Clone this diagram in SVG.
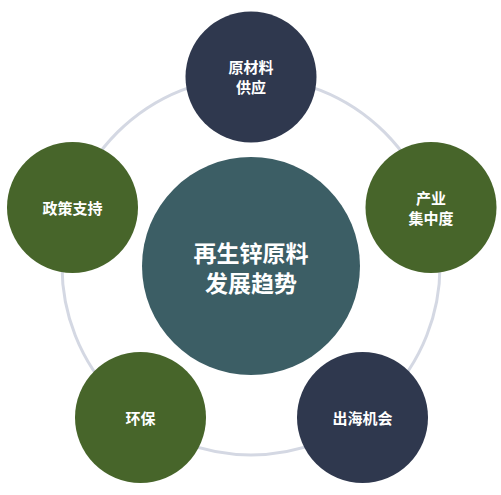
<svg xmlns="http://www.w3.org/2000/svg" width="501" height="495" viewBox="0 0 501 495">
<style>
.t{font-family:"Noto Sans CJK SC","Liberation Sans",sans-serif;font-weight:bold;fill:#ffffff;text-anchor:middle;dominant-baseline:central}
.s{font-size:15px}
.b{font-size:23px}
.navy{fill:#2f384e}
.green{fill:#47652a}
</style>
<rect width="501" height="495" fill="#ffffff"/>
<g id="connectors">
<circle cx="251" cy="266" r="189" fill="none" stroke="#d4d8e3" stroke-width="3"/>
</g>
<g id="center">
<circle cx="251" cy="266" r="109" fill="#3c5e65"/>
<text class="t b" x="251" y="252">再生锌原料<tspan x="251" dy="30">发展趋势</tspan></text>
</g>
<g id="node-raw">
<circle class="navy" cx="251" cy="77" r="65.5"/>
<text class="t s" x="251" y="66">原材料<tspan x="251" dy="20">供应</tspan></text>
</g>
<g id="node-industry">
<circle class="green" cx="431" cy="207.5" r="65.5"/>
<text class="t s" x="431" y="197">产业<tspan x="431" dy="20">集中度</tspan></text>
</g>
<g id="node-overseas">
<circle class="navy" cx="362.5" cy="417.5" r="65.5"/>
<text class="t s" x="362.5" y="417.5">出海机会</text>
</g>
<g id="node-env">
<circle class="green" cx="140.5" cy="417.5" r="65.5"/>
<text class="t s" x="140.5" y="417.5">环保</text>
</g>
<g id="node-policy">
<circle class="green" cx="72.5" cy="207.5" r="65.5"/>
<text class="t s" x="72.5" y="207.5">政策支持</text>
</g>
</svg>
